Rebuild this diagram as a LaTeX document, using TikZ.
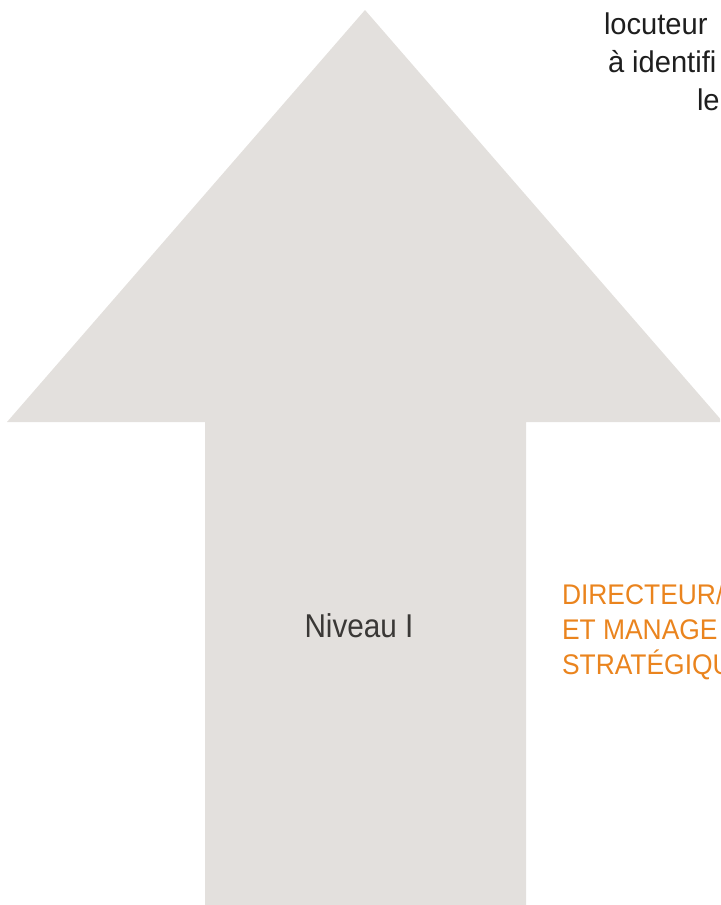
\documentclass[tikz,border=0pt]{standalone}
\usepackage{fontspec}
\setmainfont{Liberation Sans}
\usepackage{tikz}

\definecolor{arrowgray}{HTML}{E3E0DD}
\definecolor{textgray}{HTML}{3A3836}
\definecolor{textdark}{HTML}{1E1E1E}
\definecolor{leadorange}{HTML}{EA841E}

\newcommand{\narrow}[2]{\scalebox{#1}[1]{#2}}

\begin{document}
\begin{tikzpicture}[x=0.5pt,y=-0.5pt,
    every node/.style={inner sep=0pt,outer sep=0pt,anchor=base west}]
          \useasboundingbox (0,0) rectangle (720,905);
          \clip (0,0) rectangle (720,905);

          % big arrow
          \fill[arrowgray]
            (365,10) --
            (723,422) --
            (526,422) --
            (526,910) --
            (205,910) --
            (205,422) --
            (7,422) -- cycle;

          \node[textgray,anchor=base,font=\fontsize{16.5}{18}\selectfont] (niveau) at (359,637) {\narrow{0.9}{Niveau I}};

          % orange title, one line each
          \foreach \txt [count=\i] in {DIRECTEUR/,ET MANAGE,STRATÉGIQU}
            \node[leadorange,font=\fontsize{14.2}{17}\selectfont] (dir\i) at (562,569+35*\i) {\narrow{0.93}{\txt}};

          \node[textdark,font=\fontsize{15}{18}\selectfont] (loc) at (604,34) {\narrow{0.97}{locuteur}};
          \node[textdark,font=\fontsize{15}{18}\selectfont] (ident) at (608,72) {\narrow{0.97}{à identifi}};
          \node[textdark,font=\fontsize{15}{18}\selectfont] (le) at (697,110) {\narrow{0.97}{le}};
        \end{tikzpicture}
\end{document}
